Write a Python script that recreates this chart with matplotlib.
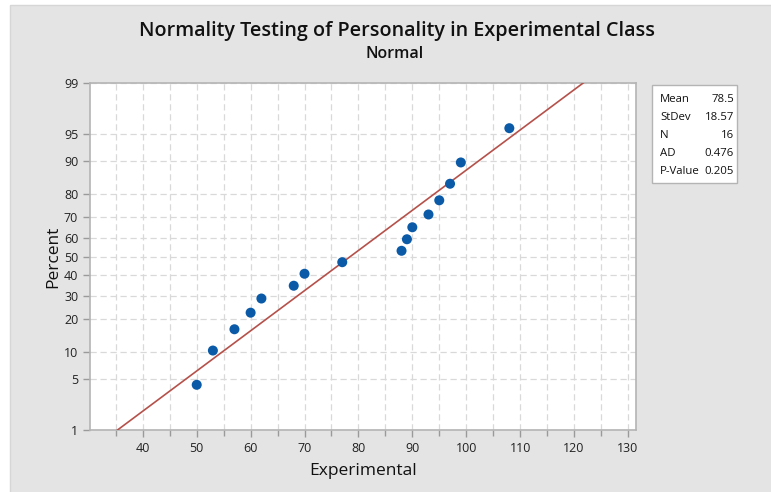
import numpy as np
import matplotlib
matplotlib.use("Agg")
import matplotlib.pyplot as plt
from matplotlib.patches import Rectangle
from statistics import NormalDist

# data
values = [50, 53, 57, 60, 62, 68, 70, 77, 88, 89, 90, 93, 95, 97, 99, 108]
pct_ticks = [1, 5, 10, 20, 30, 40, 50, 60, 70, 80, 90, 95, 99]
x_ticks = [40, 50, 60, 70, 80, 90, 100, 110, 120, 130]
stat_names = ["Mean", "StDev", "N", "AD", "P-Value"]
stat_values = ["78.5", "18.57", "16", "0.476", "0.205"]

plt.rcParams['font.family'] = ['Open Sans', 'DejaVu Sans']

nd = NormalDist()
def z(p):
    return nd.inv_cdf(p / 100.0)

x = np.sort(np.array(values, dtype=float))
n = len(x)
ranks = (np.arange(1, n + 1) - 0.3) / (n + 0.4) * 100
zy = [z(p) for p in ranks]
mean = x.mean()
sd = x.std(ddof=1)

fig = plt.figure(figsize=(7.71, 4.92), dpi=100)
fig.patch.set_facecolor("white")
W, H = 771, 492
fig.patches.append(Rectangle((10 / W, -0.01), 1, 1.01 - 5 / H, transform=fig.transFigure,
                             facecolor="#e4e4e4", edgecolor="#d6d6d6", lw=1, zorder=-10))

ax = fig.add_axes([90 / W, (H - 430) / H, 546 / W, 347 / H])
ax.set_facecolor("white")

# fitted line
line_p = np.array([0.5, 99.5])
line_x = [mean + sd * z(p) for p in line_p]
ax.plot(line_x, [z(p) for p in line_p], color="#b5514a", lw=1.2, zorder=3)
ax.scatter(x, zy, s=52, color="#0a5aa8", zorder=4, edgecolors="none")

ax.set_xlim(30.2, 131.5)
ax.set_ylim(z(1), z(99))
ax.set_xticks(x_ticks)
ax.set_xticks(np.arange(35, 135, 10), minor=True)
ax.set_yticks([z(p) for p in pct_ticks])
ax.set_yticklabels([str(p) for p in pct_ticks])

ax.grid(True, which="both", axis="x", color="#d9d9d9", ls=(0, (5, 3)), lw=0.9)
ax.grid(True, which="major", axis="y", color="#d9d9d9", ls=(0, (5, 3)), lw=0.9)
ax.set_axisbelow(True)

for s in ax.spines.values():
    s.set_color("#b4b4b4")
    s.set_linewidth(1.2)
ax.tick_params(which="both", colors="#9a9a9a", length=5, width=1, labelcolor="#222222",
               labelsize=9)
ax.tick_params(which="minor", length=4)

ax.set_xlabel("Experimental", fontsize=12.5, color="#111111", labelpad=6)
ax.set_ylabel("Percent", fontsize=12.5, color="#111111", labelpad=2)

fig.text(397 / W, 1 - 31 / H, "Normality Testing of Personality in Experimental Class",
         ha="center", va="center", fontsize=14.2, color="#111111", weight="semibold")
fig.text(395 / W, 1 - 54 / H, "Normal", ha="center", va="center", fontsize=11.5,
         color="#111111", weight="semibold")

# stats box
fig.patches.append(Rectangle((652 / W, 1 - 183 / H), 85 / W, 98 / H, transform=fig.transFigure,
                             facecolor="white", edgecolor="#b4b4b4", lw=1, zorder=5))
for i, (nm, vl) in enumerate(zip(stat_names, stat_values)):
    yy = 1 - (99 + i * 18.2) / H
    fig.text(660 / W, yy, nm, ha="left", va="center", fontsize=8.2, color="#111111", zorder=6)
    fig.text(734 / W, yy, vl, ha="right", va="center", fontsize=8.2, color="#111111", zorder=6)

fig.savefig("out.png", dpi=100)
